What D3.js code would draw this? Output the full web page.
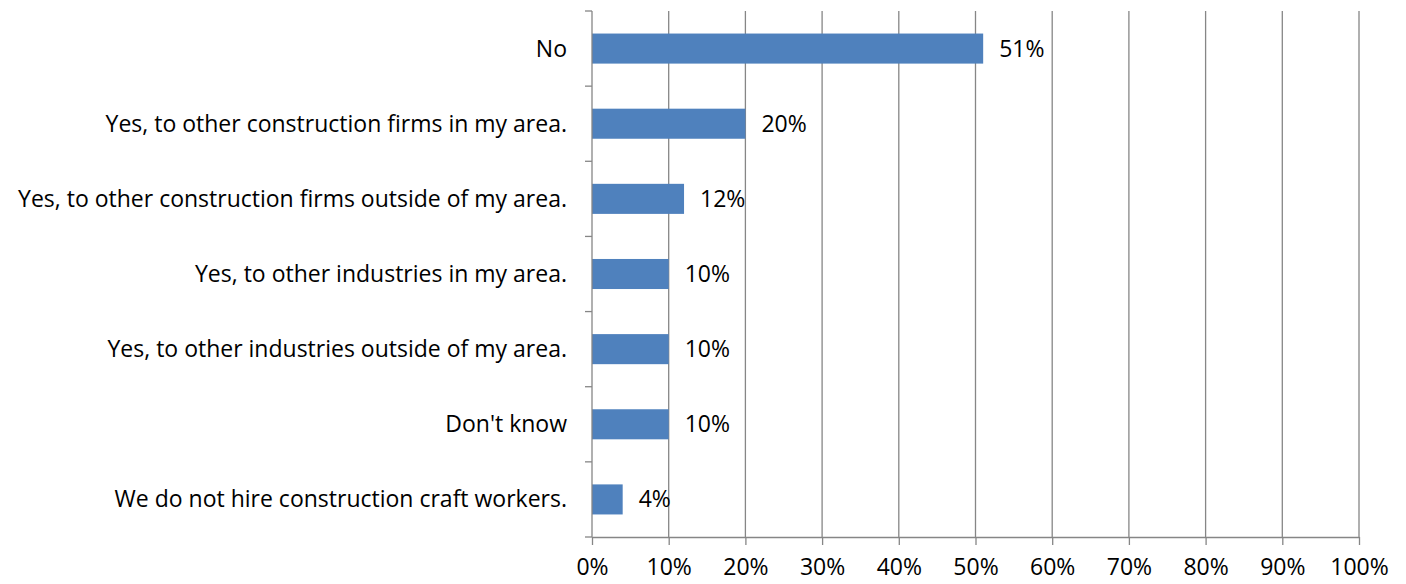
<!DOCTYPE html>
<html>
<head>
<meta charset="utf-8">
<script src="https://cdn.jsdelivr.net/npm/d3@7"></script>
<style>
  body { margin: 0; background: #fff; }
  text { font-family: "Open Sans", sans-serif; fill: #000; font-variant-ligatures: none; }
</style>
</head>
<body>
<svg width="1406" height="584"></svg>
<script>
// answers, top to bottom
var categories = [
  "No",
  "Yes, to other construction firms in my area.",
  "Yes, to other construction firms outside of my area.",
  "Yes, to other industries in my area.",
  "Yes, to other industries outside of my area.",
  "Don't know",
  "We do not hire construction craft workers."
];
var values = [51, 20, 12, 10, 10, 10, 4];
var xTicks = [0, 10, 20, 30, 40, 50, 60, 70, 80, 90, 100];

var svg = d3.select("svg");
var plotLeft = 592, plotRight = 1359, plotTop = 11, plotBottom = 537;
var fontSize = "23px";

var x = d3.scaleLinear().domain([0, 100]).range([plotLeft, plotRight]);
var y = d3.scaleBand().domain(categories).range([plotTop, plotBottom]).paddingInner(0.6).paddingOuter(0.3);

var gridColor = "#868686";

// vertical gridlines
svg.append("g").selectAll("line").data(xTicks.slice(1)).enter().append("line")
    .attr("x1", function(d) { return x(d); })
    .attr("x2", function(d) { return x(d); })
    .attr("y1", plotTop)
    .attr("y2", plotBottom)
    .style("stroke", gridColor)
    .style("stroke-width", 1.3);

// bars
svg.append("g").selectAll("rect").data(values).enter().append("rect")
    .attr("x", x(0))
    .attr("y", function(d, i) { return y(categories[i]); })
    .attr("width", function(d) { return x(d) - x(0); })
    .attr("height", y.bandwidth())
    .style("fill", "#4F81BD");

// value labels
svg.append("g").selectAll("text").data(values).enter().append("text")
    .attr("x", function(d) { return x(d) + 16; })
    .attr("y", function(d, i) { return y(categories[i]) + y.bandwidth() / 2; })
    .attr("dy", "0.35em")
    .style("font-size", fontSize)
    .text(function(d) { return d + "%"; });

// x axis
var xAxis = d3.axisBottom(x).tickValues(xTicks).tickSize(8).tickSizeOuter(0)
    .tickFormat(function(d) { return d + "%"; });
var gx = svg.append("g").attr("transform", "translate(0," + plotBottom + ")").call(xAxis);
gx.select(".domain").style("stroke", gridColor).style("stroke-width", 1.3);
gx.selectAll(".tick line").style("stroke", gridColor).style("stroke-width", 1.3);
gx.selectAll(".tick text").attr("y", 22).style("font-size", fontSize)
    .style("font-family", "'Open Sans', sans-serif").style("fill", "#000");

// y axis with ticks on band edges
var yAxisG = svg.append("g");
yAxisG.append("line")
    .attr("x1", plotLeft).attr("x2", plotLeft)
    .attr("y1", plotTop).attr("y2", plotBottom)
    .style("stroke", gridColor).style("stroke-width", 1.3);
var step = (plotBottom - plotTop) / categories.length;
yAxisG.selectAll("line.tk").data(d3.range(categories.length + 1)).enter().append("line")
    .attr("class", "tk")
    .attr("x1", plotLeft - 7).attr("x2", plotLeft)
    .attr("y1", function(d) { return plotTop + d * step; })
    .attr("y2", function(d) { return plotTop + d * step; })
    .style("stroke", gridColor).style("stroke-width", 1.3);
yAxisG.selectAll("text").data(categories).enter().append("text")
    .attr("x", plotLeft - 25)
    .attr("y", function(d) { return y(d) + y.bandwidth() / 2; })
    .attr("dy", "0.35em")
    .style("text-anchor", "end")
    .style("font-size", fontSize)
    .text(function(d) { return d; });
</script>
</body>
</html>
